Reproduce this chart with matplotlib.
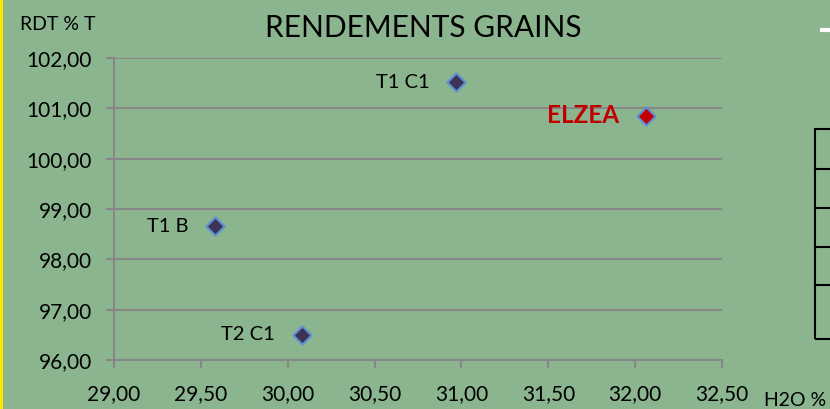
import matplotlib
matplotlib.use("Agg")
import matplotlib.pyplot as plt
from matplotlib.patches import Rectangle
from matplotlib.lines import Line2D

# Data
names = ["T1 C1", "ELZEA", "T1 B", "T2 C1"]
h2o = [30.97, 32.06, 29.58, 30.08]
rdt = [101.52, 100.85, 98.66, 96.50]
xticks = [29.0, 29.5, 30.0, 30.5, 31.0, 31.5, 32.0, 32.5]
yticks = [96.0, 97.0, 98.0, 99.0, 100.0, 101.0, 102.0]

plt.rcParams['font.family'] = ['Lato', 'DejaVu Sans']

bg = '#8bb58f'
grid = '#878787'
W, H = 830, 409
fig = plt.figure(figsize=(W/100, H/100), dpi=100)
fig.patch.set_facecolor(bg)

ax = fig.add_axes([114/W, 1-360/H, (722-114)/W, (360-58)/H])
ax.set_facecolor(bg)
ax.set_xlim(29.0, 32.5)
ax.set_ylim(96.0, 102.0)
ax.set_xticks(xticks)
ax.set_yticks(yticks)
fmt = lambda v: f"{v:.2f}".replace('.', ',')
ax.set_xticklabels([fmt(v) for v in xticks])
ax.set_yticklabels([fmt(v) for v in yticks])
for s in ['top', 'right']:
    ax.spines[s].set_visible(False)
for s in ['left', 'bottom']:
    ax.spines[s].set_color(grid)
    ax.spines[s].set_linewidth(1.5)
ax.tick_params(axis='both', colors=grid, length=6, width=1.5, labelsize=15,
               labelcolor='black')
ax.tick_params(axis='x', pad=11)
ax.tick_params(axis='y', pad=10)
ax.yaxis.grid(True, color=grid, linewidth=1.5)
ax.set_axisbelow(True)
ax.spines['left'].set_zorder(1)

for n, x, y in zip(names, h2o, rdt):
    if n == "ELZEA":
        ax.scatter([x], [y], marker='D', s=85, facecolor='#c00000',
                   edgecolor='#5b8fd6', linewidth=1.5, zorder=5, clip_on=False)
        ax.annotate(n, (x, y), xytext=(-19, 0), textcoords='offset points',
                    ha='right', va='center', fontsize=17.5, fontweight='bold',
                    color='#c00000')
    else:
        ax.scatter([x], [y], marker='D', s=85, facecolor='#3f3355',
                   edgecolor='#5b8fd6', linewidth=1.5, zorder=5, clip_on=False)
        ax.annotate(n, (x, y), xytext=(-19, 0), textcoords='offset points',
                    ha='right', va='center', fontsize=14.5, color='black')

fig.text(423/W, 1-28/H, "RENDEMENTS GRAINS", ha='center', va='center',
         fontsize=21.5, color='black')
fig.text(20/W, 1-24/H, "RDT % T", ha='left', va='center', fontsize=14,
         color='black')
fig.text(764/W, 1-401/H, "H2O %", ha='left', va='center', fontsize=14,
         color='black')

# left yellow border
fig.add_artist(Rectangle((0, 0), 2.5/W, 1, transform=fig.transFigure,
                         facecolor='#ffe600', edgecolor='none'))
# white dash top right
fig.add_artist(Line2D([822/W, 832/W], [1-30/H, 1-30/H], transform=fig.transFigure,
                      color='white', linewidth=3))
# partial table on the right
fig.add_artist(Rectangle((815/W, 1-339/H), 30/W, (339-129)/H,
                         transform=fig.transFigure, facecolor='none',
                         edgecolor='black', linewidth=1.5))
for yy in [169, 208, 247, 285]:
    fig.add_artist(Line2D([815/W, 832/W], [1-yy/H, 1-yy/H],
                          transform=fig.transFigure, color='black', linewidth=1.5))

fig.savefig("out.png", dpi=100, facecolor=bg)
